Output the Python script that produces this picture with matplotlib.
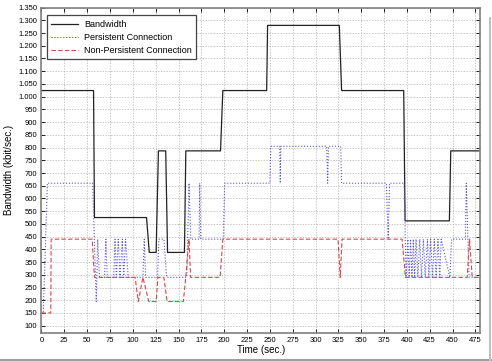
import matplotlib
matplotlib.use("Agg")
import matplotlib.pyplot as plt
from matplotlib.ticker import FuncFormatter, MultipleLocator
from matplotlib.lines import Line2D

plt.rcParams['font.family'] = ['Liberation Sans', 'DejaVu Sans']

# --- data (time in sec, bandwidth in kbit/sec) ---
bw_t = [0, 57, 58, 115, 118, 125.5, 128, 136, 138, 156.5, 158, 196, 198.5,
        246.5, 247.5, 326, 328.5, 396.5, 398, 446.5, 448, 480]
bw_v = [1024, 1024, 525, 525, 388, 388, 787, 787, 388, 388, 787, 787, 1024,
        1024, 1280, 1280, 1024, 1024, 512, 512, 787, 787]

pc_t = [0, 2, 6.5, 56, 60, 61.5, 63.5, 69, 70.5, 72, 79, 80.5, 82, 84, 86,
        88.5, 90, 92, 95, 111, 112.5, 114, 127, 128.5, 134, 137, 159, 161.5,
        163.5, 172.5, 173.2, 174.3, 199, 200.5, 250, 251, 260.8, 261.4, 262,
        312.3, 313.2, 314.2, 327.5, 328.5, 377.5, 379.5, 381, 397, 399,
        401, 402.5, 404, 405.5, 407, 408.5, 410, 412, 414, 416, 418, 420,
        422.5, 424, 426, 428, 430, 432, 434, 436, 437.5, 447, 449, 464, 465,
        468, 480]
pc_v = [150, 150, 660, 660, 195, 440, 290, 290, 440, 290, 290, 440, 290, 440, 290,
        440, 290, 440, 290, 290, 440, 290, 290, 440, 440, 290, 290, 660,
        440, 440, 660, 440, 440, 660, 660, 805, 805, 660, 805,
        805, 660, 805, 805, 660, 660, 440, 660, 660, 290,
        440, 290, 440, 290, 440, 290, 440, 290, 440, 290, 440, 290,
        440, 290, 440, 290, 440, 290, 440, 290, 440, 290, 440, 440, 660,
        290, 290]

np_t = [0, 10.2, 10.6, 55.5, 58, 102.5, 106, 111, 117.5, 125.5, 127.5, 134,
        137.5, 155.3, 157.9, 161.5, 163.3, 195.5, 198.5, 324.6, 327, 329,
        394.7, 398.4, 466, 468.5, 471.5, 480]
np_v = [150, 150, 440, 440, 290, 290, 195, 290, 195, 195, 290, 290,
        195, 195, 290, 440, 290, 290, 440, 440, 290, 440,
        440, 290, 290, 440, 290, 290]

fig = plt.figure(figsize=(4.92, 3.61), dpi=100)
ax = fig.add_axes([0.0843, 0.078, 0.8913, 0.901])

ax.plot(bw_t, bw_v, color='#222222', linewidth=0.9, label='Bandwidth')
ax.plot(pc_t, pc_v, color='#5555d5', linewidth=0.8, linestyle=':', label='Persistent Connection')
ax.plot(np_t, np_v, color='#d84848', linewidth=0.8, linestyle='--', dashes=(4, 2),
        label='Non-Persistent Connection')

ax.set_xlim(0, 480)
ax.set_ylim(72, 1350)
ax.xaxis.set_major_locator(MultipleLocator(25))
ax.set_yticks(range(100, 1351, 50))
ax.yaxis.set_major_formatter(FuncFormatter(lambda v, p: f"{int(v):,}".replace(",", ".")))
ax.tick_params(direction='in', length=3, width=0.6, labelsize=5.5, top=True, right=True, pad=3)
ax.grid(True, linestyle=(0, (2, 2)), linewidth=0.5, color='#b0b0b0')
for sp in ax.spines.values():
    sp.set_color('#808080')
    sp.set_linewidth(1.2)

ax.set_xlabel('Time (sec.)', fontsize=7, labelpad=1)
ax.set_ylabel('Bandwidth (kbit/sec.)', fontsize=7, labelpad=3)

leg = ax.legend(loc='upper left', bbox_to_anchor=(0.006, 0.985), fontsize=6.5, fancybox=False,
                framealpha=1, edgecolor='#444444', handlelength=3.0, handletextpad=0.6,
                labelspacing=0.45, borderpad=0.5, borderaxespad=0.3)
leg.get_frame().set_linewidth(0.9)

# grey frame of the screenshot along bottom and right
fig.add_artist(Line2D([0, 1], [0.004, 0.004], color='#a0a0a0', linewidth=1.5, transform=fig.transFigure))
fig.add_artist(Line2D([0.996, 0.996], [0, 0.95], color='#c0c0c0', linewidth=1.5, transform=fig.transFigure))

fig.savefig('out.png', dpi=100)
